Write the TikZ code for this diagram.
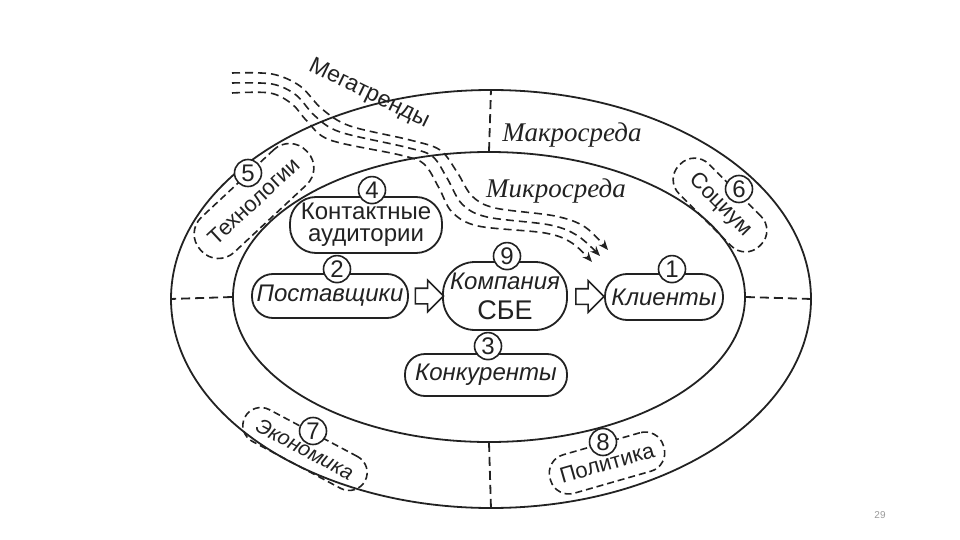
\documentclass[tikz,border=0pt]{standalone}
\usepackage{fontspec}
\setmainfont{Liberation Sans}
\newfontfamily\zonefont{Liberation Serif}
\usepackage{tikz}
\usetikzlibrary{arrows.meta,positioning,calc,shapes.geometric,shapes.arrows}
\definecolor{figink}{HTML}{222222}
\definecolor{figpage}{HTML}{9A9A9A}

\tikzset{
  zone/.style={draw=figink, ellipse, line width=1.8pt, inner sep=0pt},
  actor/.style={draw=figink, fill=white, line width=1.8pt, inner sep=0pt,
    align=center, text=figink, font=\fontsize{24}{22}\selectfont},
  force/.style={draw=figink, dash pattern=on 7pt off 4pt, line width=1.6pt,
    inner sep=0pt, text=figink, font=\fontsize{22}{24}\selectfont},
  num/.style={draw=figink, fill=white, circle, line width=1.6pt, minimum size=27pt,
    inner sep=0pt, text=figink, font=\fontsize{24}{24}\selectfont},
  divider/.style={draw=figink, dash pattern=on 9pt off 5pt, line width=1.8pt},
  trend/.style={draw=figink, dash pattern=on 8pt off 5pt, line width=1.6pt,
    -{Stealth[length=10pt,width=8pt]}},
  hollow/.style={single arrow, draw=figink, fill=white, line width=1.6pt,
    inner xsep=0pt, inner ysep=7pt, minimum height=28pt, minimum width=30pt,
    single arrow head extend=8pt}
}

\begin{document}
\begin{tikzpicture}[x=1pt,y=-1pt]
\useasboundingbox (0,0) rectangle (960,540);

% environment rings
\node[zone, minimum width=640pt, minimum height=418pt] (macro) at (491,299) {};
\node[zone, minimum width=512pt, minimum height=290pt] (micro) at (489,297) {};

\draw[divider] (micro.north) -- (macro.north);
\draw[divider] (micro.west) -- (macro.west);
\draw[divider] (micro.east) -- (macro.east);
\draw[divider] (micro.south) -- (macro.south);

\node[text=figink, font=\zonefont\itshape\fontsize{27}{30}\selectfont] (macrolbl) at (572,135) {Макросреда};
\node[text=figink, font=\zonefont\itshape\fontsize{27}{30}\selectfont] (microlbl) at (556,191) {Микросреда};

% megatrends band
\draw[trend] plot[smooth, tension=0.55] coordinates {(232,73) (272,74) (300,86) (322,109) (350,126) (410,140) (440,150) (457,172) (472,196) (495,208) (555,216) (585,227) (608,250)};
\draw[trend] plot[smooth, tension=0.55] coordinates {(232,83) (272,84) (296,95) (315,116) (340,132) (405,147) (432,156) (447,178) (462,204) (487,217) (550,225) (578,236) (600,256)};
\draw[trend] plot[smooth, tension=0.55] coordinates {(232,93) (270,93) (292,104) (307,121) (330,140) (400,155) (424,164) (439,188) (452,212) (478,226) (545,233) (572,243) (592,262)};
\node[rotate=-26, text=figink, font=\fontsize{23}{26}\selectfont] (megalbl) at (369,94) {Мегатренды};

% microenvironment
\node[
  actor,
  rounded corners=26pt,
  minimum width=152pt,
  minimum height=56pt
] (aud) at (366,225) {Контактные\\аудитории};
\node[num] (n4) at ($(aud.north)+(6,-6)$) {4};

\node[
  actor,
  rounded corners=21pt,
  minimum width=156pt,
  minimum height=44pt,
  font=\itshape\fontsize{24}{26}\selectfont
] (sup) at (330,296) {Поставщики};
\node[num] (n2) at ($(sup.north)+(7,-4)$) {2};

\node[
  actor,
  rounded corners=32pt,
  minimum width=124pt,
  minimum height=68pt,
  font=\fontsize{24}{30}\selectfont
] (comp) at (505,296) {\itshape Компания\\{\fontsize{27}{30}\selectfont СБЕ}};
\node[num] (n9) at ($(comp.north)+(2,-5)$) {9};

\node[
  actor,
  rounded corners=22pt,
  minimum width=118pt,
  minimum height=46pt,
  font=\itshape\fontsize{24}{26}\selectfont
] (cli) at (664,297) {Клиенты};
\node[num] (n1) at ($(cli.north)+(8,-4)$) {1};

\node[
  actor,
  rounded corners=20pt,
  minimum width=162pt,
  minimum height=42pt,
  font=\itshape\fontsize{24}{26}\selectfont
] (rivals) at (486,375) {Конкуренты};
\node[num] (n3) at ($(rivals.north)+(2,-7)$) {3};

\node[hollow] (arrsup) at ($(sup.east)!0.5!(comp.west)$) {};
\node[hollow] (arrcomp) at ($(comp.east)!0.5!(cli.west)$) {};

% macroenvironment forces
\node[force, rotate=43, rounded corners=23pt, minimum width=145pt, minimum height=48pt] (tech) at (254,201) {Технологии};
\node[num] (n5) at ($(tech.center)+(-6,-28)$) {5};

\node[force, rotate=-45, rounded corners=20pt, minimum width=114pt, minimum height=42pt] (soc) at (720,205) {Социум};
\node[num] (n6) at ($(soc.center)+(19,-16)$) {6};

\node[force, rotate=-28, rounded corners=18pt, minimum width=136pt, minimum height=36pt, font=\itshape\fontsize{21}{24}\selectfont] (econ) at (305,449) {Экономика};
\node[num] (n7) at ($(econ.center)+(8,-18)$) {7};

\node[force, rotate=16, rounded corners=19pt, minimum width=118pt, minimum height=40pt] (pol) at (607,463) {Политика};
\node[num] (n8) at ($(pol.center)+(-4,-21)$) {8};

\node[text=figpage, font=\fontsize{10}{12}\selectfont] (pageno) at (880,515) {29};
\end{tikzpicture}
\end{document}
